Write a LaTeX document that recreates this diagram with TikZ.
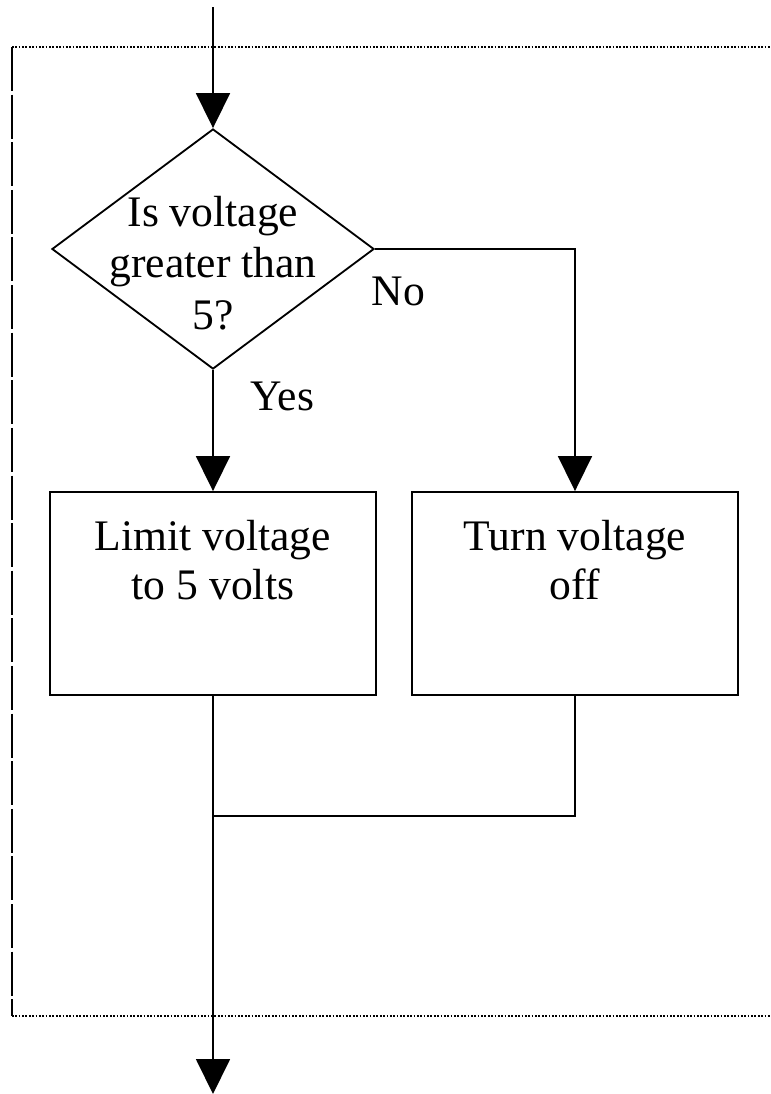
\documentclass[tikz,border=0pt]{standalone}
\usepackage{fontspec}
\setmainfont{Liberation Serif}
\usetikzlibrary{arrows.meta,shapes.geometric}
\newcommand{\boxlines}[1]{\parbox[c][5.075cm][t]{8.15cm}{\centering\vspace*{0.7cm}#1}}

\begin{document}
\begin{tikzpicture}[x=0.025cm, y=-0.025cm, >={Triangle[length=0.875cm, width=0.85cm]},
      font=\fontsize{31}{35}\selectfont, line width=1.3pt,
      decision/.style={draw, diamond, inner sep=0pt, minimum width=8.05cm, minimum height=6cm},
      procbox/.style={draw, rectangle, inner sep=0pt, minimum width=8.15cm, minimum height=5.075cm},
      flow/.style={->},
      edgeframe/.style={line width=1.9pt, dash pattern=on 1.2pt off 1.2pt},
      sideframe/.style={line width=1.9pt, dash pattern=on 1.1cm off 0.09cm}]
    \useasboundingbox (0,0) rectangle (771,1094);
    % ---- dotted frame round the block
    \draw[edgeframe] (12,47) -- (771,47);
    \draw[edgeframe] (12,1016) -- (771,1016);
    \draw[sideframe] (12,47) -- (12,1016);
    % ---- the test
    \coordinate (entry) at (213,7);
    \node[decision] (volt) at (213,249) {};
    \node[anchor=north, align=center, inner sep=0pt, font=\fontsize{31}{36.6}\selectfont] (volttext) at (213,195)
      {Is voltage\\greater than\\5?};
    \draw[flow] (entry) -- (volt.north);
    % ---- the two actions
    \node[procbox] (limit) at (213,593.5) {\boxlines{Limit voltage\\to 5 volts}};
    \node[procbox] (off) at (575,593.5) {\boxlines{Turn voltage\\off}};
    \draw[flow] (volt.south) -- (limit.north);
    \draw[flow] (volt.east) -| (off.north);
    \node[anchor=base west] (yes) at (245,410) {Yes};
    \node[anchor=base west] (no) at (366,305) {No};
    % ---- join and leave
    \coordinate (merge) at (213,816);
    \coordinate (exit) at (213,1094);
    \draw (off.south) |- (merge);
    \draw[flow] (limit.south) -- (exit);
  \end{tikzpicture}
\end{document}
